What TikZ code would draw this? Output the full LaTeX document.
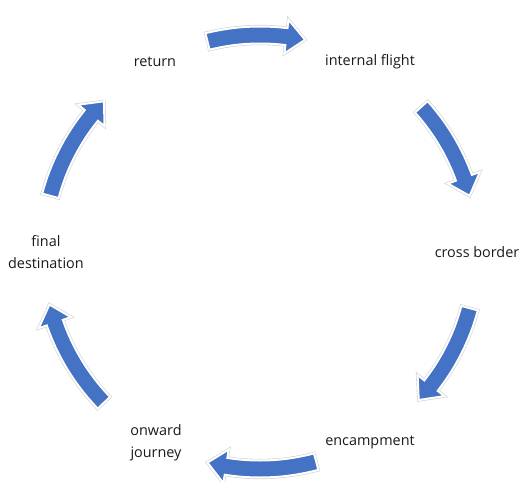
\documentclass[tikz,border=0pt]{standalone}
\usepackage{fontspec}
\setmainfont{Open Sans}
\usetikzlibrary{calc}
\definecolor{arrowblue}{HTML}{4472C4}
\definecolor{labelgray}{HTML}{1A1A1A}

% curved arrow on the cycle: tail angle, tip angle
\newcommand{\cycarrow}[2]{%
  \path[cycarrow] (#1:225.5) arc[start angle=#1, end angle=#2+5, radius=225.5]
    -- (#2+5:234) -- (#2:217) -- (#2+5:200) -- (#2+5:208.5)
    arc[start angle=#2+5, end angle=#1, radius=208.5] -- cycle;}

\begin{document}
\begin{tikzpicture}[x=0.75pt,y=0.75pt,line join=miter,
    cycarrow/.style={fill=arrowblue, draw=white, line width=1.5pt,
      preaction={draw=black!18, line width=2.4pt}},
    steplabel/.style={text=labelgray, align=center, inner sep=0pt,
      font=\fontsize{10.8}{16.5}\selectfont}]
  \useasboundingbox (0,0) rectangle (520,-481);
  \begin{scope}[shift={(260,-252)}]
    \coordinate (c) at (0,0);
    % labels
    \node[steplabel] (flight) at (60:220) {internal flight};
    \node[steplabel] (border) at (0:217) {cross border};
    \node[steplabel] (camp) at (-60:220) {encampment};
    \node[steplabel, xshift=4.5pt] (onward) at (-120:220) {onward\\journey};
    \node[steplabel, xshift=2.2pt] (final) at (180:217) {final\\destination};
    \node[steplabel, xshift=3.7pt] (ret) at (120:220) {return};
    % arrows
    \cycarrow{104}{78}
    \cycarrow{42}{15}
    \cycarrow{-15}{-43}
    \cycarrow{-75}{-104}
    \cycarrow{-136}{-166}
    \cycarrow{165}{136}
  \end{scope}
\end{tikzpicture}
\end{document}
